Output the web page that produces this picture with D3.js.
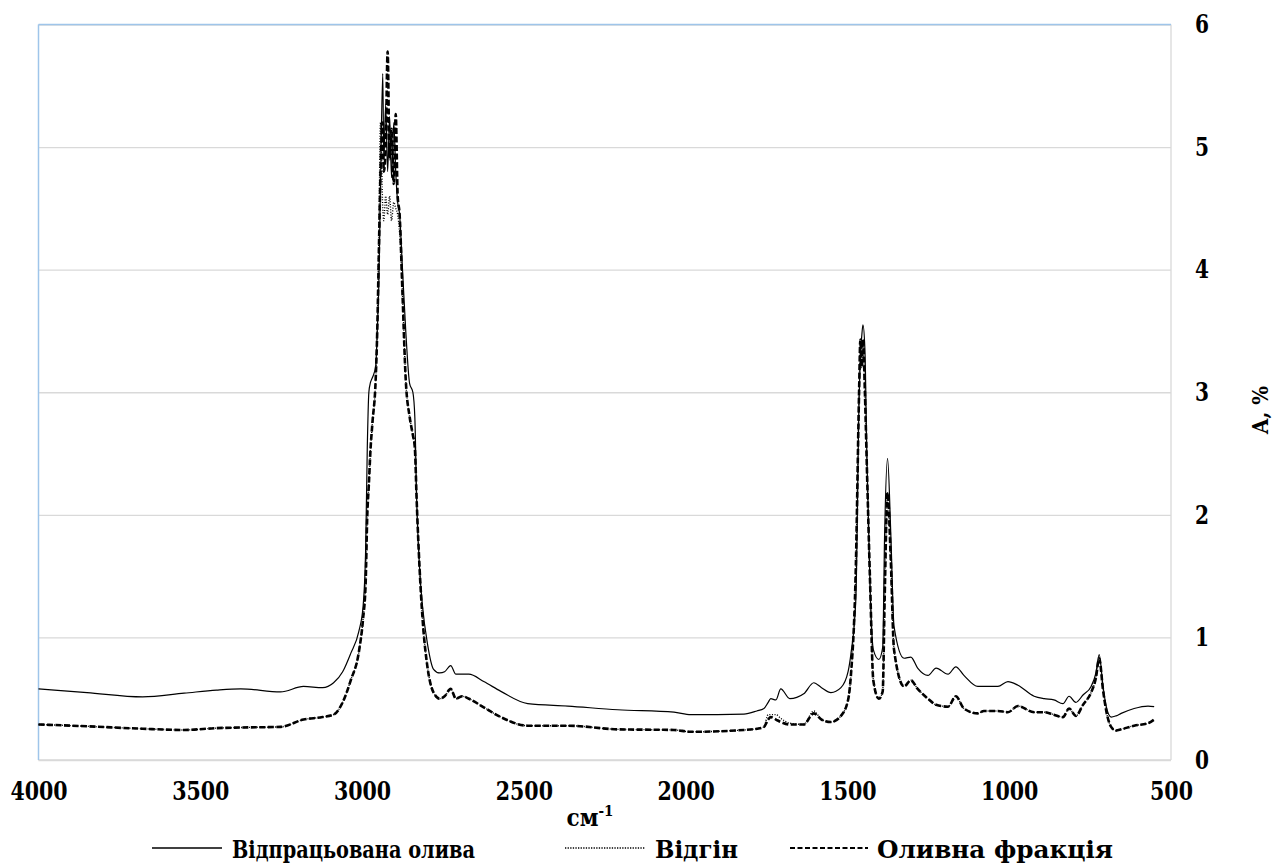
<!DOCTYPE html>
<html>
<head>
<meta charset="utf-8">
<script src="https://cdn.jsdelivr.net/npm/d3@7"></script>
<style>
    body { margin: 0; background: #fff; }
    svg text { font-family: "DejaVu Serif Condensed", "DejaVu Serif", serif; font-weight: bold; fill: #000; }
</style>
</head>
<body>
<div id="chart"></div>
<script>

// wavenumbers, cm-1
const wavenumbers = [4000, 3850, 3678, 3550, 3450, 3375, 3252, 3181, 3122, 3088,
    3060, 3035, 3010, 2997, 2989, 2984, 2979, 2974, 2968, 2958,
    2953, 2948, 2943, 2936, 2933, 2927, 2921, 2915, 2909, 2902,
    2896, 2890, 2884, 2875, 2865, 2853, 2843, 2837, 2831, 2822,
    2813, 2798, 2779, 2760, 2745, 2726, 2710, 2690, 2670, 2624,
    2571, 2488, 2364, 2210, 2036, 1984, 1820, 1780, 1758, 1745,
    1737, 1721, 1706, 1678, 1635, 1604, 1580, 1551, 1520, 1498,
    1489, 1474, 1464, 1460, 1456, 1452, 1446, 1440, 1430, 1420,
    1403, 1391, 1385, 1376, 1366, 1356, 1325, 1304, 1283, 1251,
    1226, 1189, 1165, 1140, 1097, 1078, 1035, 1004, 973, 923,
    892, 862, 834, 815, 794, 772, 747, 732, 722, 710,
    700, 685, 670, 654, 614, 571, 552];

// Відпрацьована олива
const usedOil = [0.58, 0.55, 0.515, 0.545, 0.57, 0.58, 0.555, 0.60, 0.59, 0.63,
    0.72, 0.87, 1.05, 1.25, 1.71, 2.53, 3.0, 3.08, 3.12, 3.21,
    3.5, 3.9, 4.7, 5.6, 4.9, 5.35, 4.8, 5.25, 4.75, 5.2,
    4.8, 4.55, 4.45, 4.0, 3.5, 3.07, 3.0, 2.8, 2.1, 1.55,
    1.25, 0.95, 0.74, 0.71, 0.72, 0.77, 0.7, 0.7, 0.7, 0.64,
    0.56, 0.46, 0.44, 0.41, 0.39, 0.37, 0.375, 0.4, 0.42, 0.47,
    0.5, 0.49, 0.58, 0.5, 0.54, 0.63, 0.59, 0.55, 0.59, 0.72,
    0.87, 1.31, 2.94, 3.3, 3.45, 3.55, 3.35, 2.5, 1.4, 0.9,
    0.82, 0.92, 1.85, 2.46, 1.85, 1.09, 0.83, 0.84, 0.75, 0.69,
    0.75, 0.7, 0.76, 0.69, 0.6, 0.6, 0.6, 0.64, 0.61, 0.52,
    0.5, 0.49, 0.46, 0.52, 0.47, 0.53, 0.6, 0.71, 0.86, 0.6,
    0.435, 0.35, 0.36, 0.38, 0.42, 0.44, 0.435];

// Відгін
const distillate = [0.29, 0.275, 0.255, 0.245, 0.26, 0.265, 0.27, 0.33, 0.35, 0.37,
    0.47, 0.65, 0.88, 1.15, 1.44, 1.99, 2.25, 2.53, 2.75, 3.1,
    3.51, 4.3, 5.2, 4.5, 4.4, 4.6, 4.45, 4.6, 4.4, 4.55,
    4.5, 4.45, 4.3, 3.8, 3.1, 2.8, 2.65, 2.55, 2.1, 1.55,
    1.15, 0.76, 0.55, 0.5, 0.52, 0.58, 0.5, 0.52, 0.5, 0.43,
    0.35, 0.28, 0.28, 0.25, 0.245, 0.23, 0.245, 0.255, 0.27, 0.37,
    0.37, 0.37, 0.34, 0.3, 0.29, 0.4, 0.33, 0.31, 0.36, 0.49,
    0.7, 1.58, 3.0, 3.4, 3.2, 3.35, 3.0, 2.4, 1.45, 0.65,
    0.5, 0.56, 1.31, 2.18, 1.63, 0.9, 0.6, 0.65, 0.58, 0.5,
    0.45, 0.435, 0.52, 0.42, 0.38, 0.4, 0.4, 0.39, 0.44, 0.39,
    0.39, 0.37, 0.35, 0.42, 0.36, 0.45, 0.55, 0.67, 0.83, 0.57,
    0.4, 0.27, 0.24, 0.25, 0.28, 0.30, 0.33];

// Оливна фракція
const oilFraction = [0.29, 0.275, 0.255, 0.245, 0.26, 0.265, 0.27, 0.33, 0.35, 0.37,
    0.47, 0.65, 0.88, 1.15, 1.44, 1.99, 2.25, 2.53, 2.75, 3.1,
    3.51, 4.16, 4.8, 5.2, 4.8, 5.0, 5.78, 4.9, 5.15, 4.7,
    5.27, 4.6, 4.45, 3.8, 3.1, 2.8, 2.65, 2.55, 2.1, 1.55,
    1.15, 0.76, 0.55, 0.5, 0.52, 0.58, 0.5, 0.52, 0.5, 0.43,
    0.35, 0.28, 0.28, 0.25, 0.245, 0.23, 0.245, 0.255, 0.27, 0.33,
    0.35, 0.33, 0.31, 0.29, 0.29, 0.38, 0.33, 0.31, 0.36, 0.49,
    0.7, 1.58, 3.0, 3.43, 3.21, 3.43, 3.0, 2.4, 1.45, 0.65,
    0.5, 0.56, 1.31, 2.18, 1.63, 0.9, 0.6, 0.65, 0.58, 0.5,
    0.45, 0.435, 0.52, 0.42, 0.38, 0.4, 0.4, 0.39, 0.44, 0.39,
    0.39, 0.37, 0.35, 0.42, 0.36, 0.45, 0.55, 0.67, 0.83, 0.57,
    0.4, 0.27, 0.24, 0.25, 0.28, 0.30, 0.33];

const seriesNames = ["Відпрацьована олива", "Відгін", "Оливна фракція"];
const xTicks = [4000, 3500, 3000, 2500, 2000, 1500, 1000, 500];
const yTicks = [0, 1, 2, 3, 4, 5, 6];

const FONT = '"DejaVu Serif Condensed", "DejaVu Serif", serif';

class SpectrumChart {

    constructor(_parentElement) {
        this.parentElement = _parentElement;
        this.initVis();
    }

    initVis() {
        let vis = this;

        vis.margin = { top: 24.5, right: 103, bottom: 106, left: 38.5 };
        vis.width = 1274 - vis.margin.left - vis.margin.right;
        vis.height = 866 - vis.margin.top - vis.margin.bottom;

        vis.root = d3.select("#" + vis.parentElement).append("svg")
            .attr("width", 1274)
            .attr("height", 866);

        vis.svg = vis.root.append("g")
            .attr("transform", "translate(" + vis.margin.left + "," + vis.margin.top + ")");

        vis.x = d3.scaleLinear().domain([4000, 500]).range([0, vis.width]);
        vis.y = d3.scaleLinear().domain([0, 6]).range([vis.height, 0]);

        // gridlines
        vis.svg.append("g")
            .attr("class", "grid")
            .call(d3.axisLeft(vis.y).tickValues(yTicks).tickSize(-vis.width).tickFormat(""))
            .call(g => g.select(".domain").remove())
            .call(g => g.selectAll("line").attr("stroke", "#d9d9d9").attr("stroke-width", 1.3));

        // plot area border (blue on left/top, grey on right/bottom)
        vis.svg.append("line").attr("x1", vis.width).attr("x2", vis.width).attr("y1", 0).attr("y2", vis.height)
            .attr("stroke", "#d9d9d9").attr("stroke-width", 1.3);
        vis.svg.append("line").attr("x1", 0).attr("x2", vis.width).attr("y1", vis.height).attr("y2", vis.height)
            .attr("stroke", "#d9d9d9").attr("stroke-width", 1.5);
        vis.svg.append("line").attr("x1", 0).attr("x2", vis.width).attr("y1", 0).attr("y2", 0)
            .attr("stroke", "#9fc5ea").attr("stroke-width", 1.3);
        vis.svg.append("line").attr("x1", 0).attr("x2", 0).attr("y1", 0).attr("y2", vis.height)
            .attr("stroke", "#9fc5ea").attr("stroke-width", 1.5);

        // axes (labels squeezed a bit to look like Times)
        vis.svg.append("g")
            .attr("class", "xaxis")
            .attr("transform", "translate(0," + vis.height + ")")
            .call(d3.axisBottom(vis.x).tickValues(xTicks).tickSize(0).tickPadding(20).tickFormat(d3.format("d")))
            .call(g => g.select(".domain").remove())
            .call(g => g.attr("font-family", FONT))
            .call(g => g.selectAll("text")
                .attr("font-size", 26)
                .attr("dy", "0.78em")
                .attr("textLength", d => String(d).length * 14.3)
                .attr("lengthAdjust", "spacingAndGlyphs"));

        vis.svg.append("g")
            .attr("class", "yaxis")
            .attr("transform", "translate(" + vis.width + ",0)")
            .call(d3.axisRight(vis.y).tickValues(yTicks).tickSize(0).tickPadding(24).tickFormat(d3.format("d")))
            .call(g => g.select(".domain").remove())
            .call(g => g.attr("font-family", FONT))
            .call(g => g.selectAll("text")
                .attr("font-size", 26)
                .attr("textLength", 14)
                .attr("lengthAdjust", "spacingAndGlyphs"));

        // axis titles
        let xt = vis.root.append("text")
            .attr("x", 590)
            .attr("y", 826)
            .attr("text-anchor", "middle")
            .attr("font-size", 24);
        xt.append("tspan").text("см");
        xt.append("tspan").text("-1").attr("font-size", 15).attr("dy", -10);

        vis.root.append("text")
            .attr("transform", "translate(1268,410) rotate(-90)")
            .attr("text-anchor", "middle")
            .attr("font-size", 22)
            .text("A, %");

        vis.styles = [
            { dash: null, width: 1.2 },
            { dash: "1,1.6", width: 1.4 },
            { dash: "6,2.5", width: 2.6 }
        ];

        vis.wrangleData();
    }

    wrangleData() {
        let vis = this;
        vis.displayData = [usedOil, distillate, oilFraction].map((vals, i) => ({
            name: seriesNames[i],
            values: wavenumbers.map((w, j) => ({ w: w, a: vals[j] }))
        }));
        vis.updateVis();
    }

    updateVis() {
        let vis = this;

        let line = d3.line()
            .x(d => vis.x(d.w))
            .y(d => vis.y(d.a))
            .curve(d3.curveMonotoneX);

        vis.svg.selectAll("path.series")
            .data(vis.displayData)
            .enter()
            .append("path")
            .attr("class", "series")
            .attr("fill", "none")
            .attr("stroke", "#000")
            .attr("stroke-width", (d, i) => vis.styles[i].width)
            .attr("stroke-dasharray", (d, i) => vis.styles[i].dash)
            .attr("stroke-linejoin", "round")
            .attr("d", d => line(d.values));

        // legend
        let legendPos = [
            { x1: 152, x2: 222, tx: 232, len: 243 },
            { x1: 565, x2: 645, tx: 655, len: 83 },
            { x1: 790, x2: 868, tx: 877, len: 236 }
        ];

        let legend = vis.root.append("g").attr("class", "legend");
        let items = legend.selectAll("g")
            .data(vis.displayData)
            .enter()
            .append("g");

        items.append("line")
            .attr("x1", (d, i) => legendPos[i].x1)
            .attr("x2", (d, i) => legendPos[i].x2)
            .attr("y1", 848)
            .attr("y2", 848)
            .attr("stroke", "#000")
            .attr("stroke-width", (d, i) => i === 2 ? 2.2 : 1.3)
            .attr("stroke-dasharray", (d, i) => i === 0 ? null : (i === 1 ? "1.3,1.3" : "5,2.5"));

        items.append("text")
            .attr("x", (d, i) => legendPos[i].tx)
            .attr("y", 858)
            .attr("font-size", 25)
            .attr("textLength", (d, i) => legendPos[i].len)
            .attr("lengthAdjust", "spacingAndGlyphs")
            .text(d => d.name);
    }
}

let chart = new SpectrumChart("chart");
</script>
</body>
</html>
